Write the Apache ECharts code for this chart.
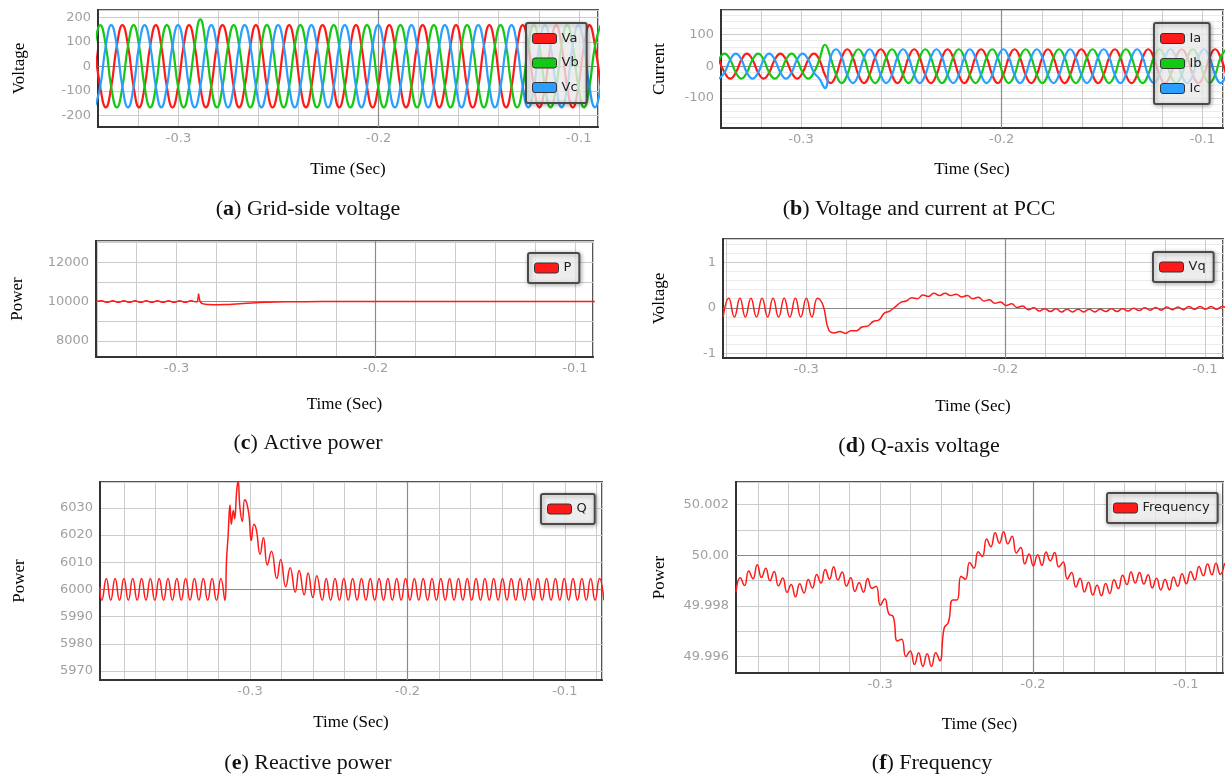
<!DOCTYPE html>
<html>
<head>
<meta charset="utf-8">
<title>Grid-side and PCC waveforms</title>
<script src="https://cdn.jsdelivr.net/npm/echarts@6/dist/echarts.min.js"></script>
<style>
  html, body { margin: 0; padding: 0; background: #fff; }
  #chart { width: 1226px; height: 781px; }
</style>
</head>
<body>
<div id="chart"></div>
<script>
// (a) grid-side voltage, read at every 60 degrees of the 60 Hz wave
const tV = [-0.3419,-0.3391,-0.3363,-0.3336,-0.3308,-0.328,-0.3252,-0.3224,-0.3197,-0.3169,
  -0.3141,-0.3113,-0.3086,-0.3058,-0.303,-0.3002,-0.2974,-0.2947,-0.2919,-0.2891,
  -0.2863,-0.2836,-0.2808,-0.278,-0.2752,-0.2724,-0.2697,-0.2669,-0.2641,-0.2613,
  -0.2586,-0.2558,-0.253,-0.2502,-0.2474,-0.2447,-0.2419,-0.2391,-0.2363,-0.2336,
  -0.2308,-0.228,-0.2252,-0.2224,-0.2197,-0.2169,-0.2141,-0.2113,-0.2086,-0.2058,
  -0.203,-0.2002,-0.1974,-0.1947,-0.1919,-0.1891,-0.1863,-0.1836,-0.1808,-0.178,
  -0.1752,-0.1724,-0.1697,-0.1669,-0.1641,-0.1613,-0.1586,-0.1558,-0.153,-0.1502,
  -0.1474,-0.1447,-0.1419,-0.1391,-0.1363,-0.1336,-0.1308,-0.128,-0.1252,-0.1224,
  -0.1197,-0.1169,-0.1141,-0.1113,-0.1086,-0.1058,-0.103,-0.1002,-0.0974,-0.0947,
  -0.0919,-0.0891];
const Va = [84,-84,-168,-84,84,168, 84,-84,-168,-84,84,168, 84,-84,-168,-84,84,168,
  84,-84,-168,-84,84,168, 84,-84,-168,-84,84,168, 84,-84,-168,-84,84,168,
  84,-84,-168,-84,84,168, 84,-84,-168,-84,84,168, 84,-84,-168,-84,84,168,
  84,-84,-168,-84,84,168, 84,-84,-168,-84,84,168, 84,-84,-168,-84,84,168,
  84,-84,-168,-84,84,168, 84,-84,-168,-84,84,168, 84,-84,-168,-84,84,168, 84,-84];
const Vb = [84,168,84,-84,-168,-84, 84,168,84,-84,-168,-84, 84,168,84,-84,-168,-84,
  84,192,84,-84,-168,-84, 84,168,84,-84,-168,-84, 84,168,84,-84,-168,-84,
  84,168,84,-84,-168,-84, 84,168,84,-84,-168,-84, 84,168,84,-84,-168,-84,
  84,168,84,-84,-168,-84, 84,168,84,-84,-168,-84, 84,168,84,-84,-168,-84,
  84,168,84,-84,-168,-84, 84,168,84,-84,-168,-84, 84,168,84,-84,-168,-84, 84,168];
const Vc = [-168,-84,84,168,84,-84, -168,-84,84,168,84,-84, -168,-84,84,168,84,-84,
  -168,-84,84,168,84,-84, -168,-84,84,168,84,-84, -168,-84,84,168,84,-84,
  -168,-84,84,168,84,-84, -168,-84,84,168,84,-84, -168,-84,84,168,84,-84,
  -168,-84,84,168,84,-84, -168,-84,84,168,84,-84, -168,-84,84,168,84,-84,
  -168,-84,84,168,84,-84, -168,-84,84,168,84,-84, -168,-84,84,168,84,-84, -168,-84];

// (b) current at PCC, same 60 degree reading
const tI = [-0.3409,-0.3381,-0.3353,-0.3325,-0.3297,-0.327,-0.3242,-0.3214,-0.3186,-0.3159,
  -0.3131,-0.3103,-0.3075,-0.3047,-0.302,-0.2992,-0.2964,-0.2936,-0.2909,-0.2881,
  -0.2853,-0.2825,-0.2797,-0.277,-0.2742,-0.2714,-0.2686,-0.2659,-0.2631,-0.2603,
  -0.2575,-0.2547,-0.252,-0.2492,-0.2464,-0.2436,-0.2409,-0.2381,-0.2353,-0.2325,
  -0.2297,-0.227,-0.2242,-0.2214,-0.2186,-0.2159,-0.2131,-0.2103,-0.2075,-0.2047,
  -0.202,-0.1992,-0.1964,-0.1936,-0.1909,-0.1881,-0.1853,-0.1825,-0.1797,-0.177,
  -0.1742,-0.1714,-0.1686,-0.1659,-0.1631,-0.1603,-0.1575,-0.1547,-0.152,-0.1492,
  -0.1464,-0.1436,-0.1409,-0.1381,-0.1353,-0.1325,-0.1297,-0.127,-0.1242,-0.1214,
  -0.1186,-0.1159,-0.1131,-0.1103,-0.1075,-0.1047,-0.102,-0.0992,-0.0964,-0.0936,
  -0.0909,-0.0881];
const Ia = [20,-20,-39,-20,20,39, 20,-20,-39,-20,20,39, 20,-20,-39,-20,20,39, 20,
  -27,-53,-27,27,53,
  27,-27,-53,-27,27,53, 27,-27,-53,-27,27,53, 27,-27,-53,-27,27,53, 27,-27,-53,-27,27,53,
  27,-27,-53,-27,27,53, 27,-27,-53,-27,27,53, 27,-27,-53,-27,27,53, 27,-27,-53,-27,27,53,
  27,-27,-53,-27,27,53, 27,-27,-53,-27,27,53, 27,-27,-53,-27,27,53,
  27,-27];
const Ib = [20,39,20,-20,-39,-20, 20,39,20,-20,-39,-20, 20,39,20,-20,-39,-20, 20,
  67,27,-27,-53,-27,
  27,53,27,-27,-53,-27, 27,53,27,-27,-53,-27, 27,53,27,-27,-53,-27, 27,53,27,-27,-53,-27,
  27,53,27,-27,-53,-27, 27,53,27,-27,-53,-27, 27,53,27,-27,-53,-27, 27,53,27,-27,-53,-27,
  27,53,27,-27,-53,-27, 27,53,27,-27,-53,-27, 27,53,27,-27,-53,-27,
  27,53];
const Ic = [-39,-20,20,39,20,-20, -39,-20,20,39,20,-20, -39,-20,20,39,20,-20, -39,
  -69,27,53,27,-27,
  -53,-27,27,53,27,-27, -53,-27,27,53,27,-27, -53,-27,27,53,27,-27, -53,-27,27,53,27,-27,
  -53,-27,27,53,27,-27, -53,-27,27,53,27,-27, -53,-27,27,53,27,-27, -53,-27,27,53,27,-27,
  -53,-27,27,53,27,-27, -53,-27,27,53,27,-27, -53,-27,27,53,27,-27,
  -53,-27];

// (c) active power
const tP = [-0.3404,-0.3376,-0.3348,-0.332,-0.3292,-0.3264,-0.3236,-0.3208,-0.318,-0.3152,
  -0.3124,-0.3096,-0.3068,-0.304,-0.3012,-0.2984,-0.2956,-0.2928,-0.29,
  -0.2893,-0.2889,-0.2885,-0.2878,-0.2865,-0.284,-0.279,-0.275,-0.27,-0.262,
  -0.255,-0.245,-0.235,-0.22,-0.15,-0.09];
const P = [10000,10040,9960,10040,9960,10040,9960,10040,9960,10040,
  9960,10040,9960,10040,9960,10040,9960,10040,9980,
  10100,10380,10150,9950,9880,9850,9840,9850,9880,9930,
  9960,9985,9995,10000,10000,10000];

// (d) q-axis voltage
const tVq = [-0.3416,-0.3388,-0.336,-0.3332,-0.3305,-0.3277,-0.3249,-0.3221,-0.3193,-0.3166,
  -0.3138,-0.311,-0.3082,-0.3054,-0.3027,-0.2999,-0.2971,-0.2943,
  -0.2915,-0.2887,-0.2859,-0.2831,-0.2803,-0.2775,-0.2748,-0.272,-0.2692,-0.2664,
  -0.2636,-0.2609,-0.2581,-0.2553,-0.2525,-0.2498,-0.247,-0.2442,-0.2414,-0.2386,
  -0.2359,-0.2331,-0.2303,-0.2275,-0.2247,-0.222,-0.2192,-0.2164,-0.2136,-0.2108,
  -0.2081,-0.2053,-0.2025,-0.1997,-0.1969,-0.1942,-0.1914,-0.1886,-0.1858,-0.183,
  -0.1803,-0.1775,-0.1747,-0.1719,-0.1691,-0.1664,-0.1636,-0.1608,-0.158,-0.1552,
  -0.1525,-0.1497,-0.1469,-0.1441,-0.1413,-0.1386,-0.1358,-0.133,-0.1302,-0.1274,
  -0.1247,-0.1219,-0.1191,-0.1163,-0.1135,-0.1108,-0.108,-0.1052,-0.1024,-0.0996,
  -0.0969,-0.0941,-0.0913,-0.0885];
const Vq = [-0.2,0.21,-0.2,0.21,-0.2,0.21,-0.2,0.21,-0.2,0.21,
  -0.2,0.21,-0.2,0.21,-0.2,0.21,-0.2,0.21,
  0.05,-0.48,-0.55,-0.52,-0.56,-0.5,-0.5,-0.42,-0.4,-0.3,
  -0.27,-0.12,-0.07,0.02,0.12,0.15,0.22,0.2,0.28,0.25,
  0.32,0.27,0.32,0.27,0.3,0.24,0.27,0.2,0.23,0.15,
  0.18,0.1,0.13,0.05,0.09,0.01,0.04,-0.04,0,-0.07,
  -0.02,-0.08,-0.02,-0.09,-0.03,-0.09,-0.03,-0.09,-0.03,-0.09,
  -0.03,-0.08,-0.02,-0.08,-0.02,-0.07,-0.01,-0.06,0,-0.05,
  0.01,-0.05,0.02,-0.04,0.02,-0.04,0.03,-0.03,0.03,-0.03,
  0.03,-0.03,0.03,-0.02];

// (e) reactive power
const tQ = [-0.3955,-0.3941,-0.3913,-0.3885,-0.3857,-0.3829,-0.3801,-0.3773,-0.3745,-0.3717,
  -0.3689,-0.3661,-0.3633,-0.3605,-0.3577,-0.3549,-0.3521,-0.3493,-0.3465,-0.3437,
  -0.3409,-0.3381,-0.3353,-0.3325,-0.3297,-0.3269,-0.3241,-0.3213,-0.3185,-0.316,
  -0.3149,-0.314,-0.3127,-0.3119,-0.3106,-0.3098,-0.3085,-0.3076,-0.3064,-0.3049,
  -0.3034,-0.3022,-0.3006,-0.2992,-0.2975,-0.296,-0.2936,-0.2915,-0.289,-0.2864,
  -0.283,-0.2805,-0.2773,-0.2745,-0.2713,-0.2688,-0.2656,-0.2631,-0.2601,-0.2576,
  -0.2541,-0.2516,
  -0.2488,-0.246,-0.2432,-0.2404,-0.2376,-0.2348,-0.232,-0.2292,-0.2264,-0.2236,
  -0.2208,-0.218,-0.2152,-0.2124,-0.2096,-0.2068,-0.204,-0.2012,-0.1984,-0.1956,
  -0.1928,-0.19,-0.1872,-0.1844,-0.1816,-0.1788,-0.176,-0.1732,-0.1704,-0.1676,
  -0.1648,-0.162,-0.1592,-0.1564,-0.1536,-0.1508,-0.148,-0.1452,-0.1424,-0.1396,
  -0.1368,-0.134,-0.1312,-0.1284,-0.1256,-0.1228,-0.12,-0.1172,-0.1144,-0.1116,
  -0.1088,-0.106,-0.1032,-0.1004,-0.0976,-0.0948,-0.092,-0.0892,-0.0864,-0.0836,
  -0.0808,-0.078,-0.0752];
const Q = [6001,5996,6004,5996,6004,5996,6004,5996,6004,5996,
  6004,5996,6004,5996,6004,5996,6004,5996,6004,5996,
  6004,5996,6004,5996,6004,5996,6004,5996,6004,5996,
  6011,6019,6031,6024,6029,6026,6036,6040,6030,6025,
  6033,6032,6027,6018,6024,6022,6013,6019,6009,6014,
  6004,6011,6001,6008,5999,6007,5998,6006,5997,6005,
  5996,6004,
  5996,6004,5996,6004,5996,6004,5996,6004,5996,6004,
  5996,6004,5996,6004,5996,6004,5996,6004,5996,6004,
  5996,6004,5996,6004,5996,6004,5996,6004,5996,6004,
  5996,6004,5996,6004,5996,6004,5996,6004,5996,6004,
  5996,6004,5996,6004,5996,6004,5996,6004,5996,6004,
  5996,6004,5996,6004,5996,6004,5996,6004,5996,6004,
  5996,6004,5996];

// (f) frequency
const tF = [-0.3943,-0.3915,-0.3887,-0.386,-0.3832,-0.3804,-0.3776,-0.3748,-0.3721,-0.3693,
  -0.3665,-0.3637,-0.3609,-0.3582,-0.3554,-0.3526,-0.3498,-0.347,-0.3443,-0.3415,
  -0.3387,-0.3359,-0.3331,-0.3304,-0.3276,-0.3248,-0.322,-0.3192,-0.3165,-0.3137,
  -0.3109,-0.3081,-0.3053,-0.3026,-0.2998,-0.297,-0.2942,-0.2914,-0.2887,-0.2859,
  -0.2831,-0.2803,-0.2775,-0.2748,-0.272,-0.2692,-0.2664,-0.2636,-0.2609,-0.2581,
  -0.2553,-0.2525,-0.2497,-0.247,-0.2442,-0.2414,-0.2386,-0.2358,-0.2331,-0.2303,
  -0.2275,-0.2247,-0.2219,-0.2192,-0.2164,-0.2136,-0.2108,-0.208,-0.2053,-0.2025,
  -0.1997,-0.1969,-0.1941,-0.1914,-0.1886,-0.1858,-0.183,-0.1802,-0.1775,-0.1747,
  -0.1719,-0.1691,-0.1663,-0.1636,-0.1608,-0.158,-0.1552,-0.1524,-0.1497,-0.1469,
  -0.1441,-0.1413,-0.1385,-0.1358,-0.133,-0.1302,-0.1274,-0.1246,-0.1219,-0.1191,
  -0.1163,-0.1135,-0.1107,-0.108,-0.1052,-0.1024,-0.0996,-0.0968,-0.0941,-0.0913,
  -0.0885,-0.0857,-0.0829,-0.0802,-0.0774,-0.0746];
const F = [49.99853,49.99911,49.9988,49.99938,49.99907,49.99962,49.99912,49.99949,49.99899,49.99936,
  49.99879,49.9991,49.99853,49.99884,49.99836,49.99887,49.99851,49.99904,49.9987,49.99924,
  49.9989,49.99944,49.99905,49.99955,49.99902,49.99934,49.99878,49.99911,49.99857,49.99891,
  49.99854,49.99908,49.99869,49.99877,49.99802,49.99828,49.99767,49.99757,49.99661,49.99668,
  49.99599,49.99621,49.99568,49.99614,49.9956,49.9961,49.9956,49.99614,49.99582,49.99711,
  49.99735,49.99823,49.99823,49.99917,49.99905,49.99971,49.99949,50.00014,49.99995,50.00064,
  50.00034,50.00089,50.00048,50.00093,50.00045,50.00075,50.00009,50.00031,49.99966,50.00005,
  49.99958,50.00002,49.9996,50.00013,49.99978,50.00011,49.99954,49.99973,49.99906,49.99932,
  49.99874,49.99909,49.99855,49.99893,49.99843,49.99881,49.9984,49.99888,49.99849,49.99903,
  49.99868,49.99921,49.99884,49.99934,49.9989,49.99932,49.99886,49.99923,49.99871,49.99909,
  49.99863,49.99904,49.99863,49.99914,49.99877,49.99927,49.99887,49.99936,49.99902,49.99956,
  49.99919,49.99965,49.99923,49.99968,49.99925,49.99969];

// darker reference lines drawn in every panel
const refT = -0.2;
const refY = [0, 0, 10000, 0, 6000, 50];

const captions = [
  ['a', 'Grid-side voltage'], ['b', 'Voltage and current at PCC'],
  ['c', 'Active power'], ['d', 'Q-axis voltage'],
  ['e', 'Reactive power'], ['f', 'Frequency']
];

const RED = '#ff1a1a', GREEN = '#14c814', BLUE = '#2a9fff';
const LABEL = '#a0a0a0';
const SERIF = 'Liberation Serif';

function xFmt(v) {
  const r = Math.round(v * 10);
  return Math.abs(v * 10 - r) < 1e-6 ? (r / 10).toFixed(1) : '';
}
function stepFmt(step) {
  return function (v) {
    const r = Math.round(v / step);
    return Math.abs(v / step - r) < 1e-6 ? String(Math.round(r * step)) : '';
  };
}
function freqFmt(v) {
  const r = Math.round(v / 0.002);
  if (Math.abs(v / 0.002 - r) > 1e-4) return '';
  const x = r * 0.002;
  return Math.abs(x - 50) < 1e-9 ? '50.00' : x.toFixed(3);
}

function xAx(grid, min, max, nameGap) {
  return {
    type: 'value', gridIndex: grid, min: min, max: max, minInterval: 0.02, maxInterval: 0.02,
    name: 'Time (Sec)', nameLocation: 'middle', nameGap: nameGap,
    nameTextStyle: { fontFamily: SERIF, fontSize: 17, color: '#000' },
    axisLine: { show: true, onZero: false, lineStyle: { color: '#333', width: 2 } },
    axisTick: { show: false },
    axisLabel: { formatter: xFmt, color: LABEL, fontFamily: 'DejaVu Sans', fontSize: 13, margin: 5 },
    splitLine: { show: true, lineStyle: { color: '#cccccc', width: 1 } }
  };
}
function yAx(grid, min, max, step, fmt, name, nameGap, minorSplit) {
  return {
    type: 'value', gridIndex: grid, min: min, max: max, minInterval: step, maxInterval: step,
    name: name, nameLocation: 'middle', nameGap: nameGap,
    nameTextStyle: { fontFamily: SERIF, fontSize: 17, color: '#000' },
    axisLine: { show: true, onZero: false, lineStyle: { color: '#333', width: 2 } },
    axisTick: { show: false },
    axisLabel: { formatter: fmt, color: LABEL, fontFamily: 'DejaVu Sans', fontSize: 13, margin: 7 },
    splitLine: { show: true, lineStyle: { color: '#cccccc', width: 1 } },
    minorTick: { show: false, splitNumber: minorSplit || 5 },
    minorSplitLine: { show: !!minorSplit, lineStyle: { color: '#ececec', width: 1 } }
  };
}
function wave(name, grid, t, v, color, width) {
  return {
    name: name, type: 'line', xAxisIndex: grid, yAxisIndex: grid,
    data: t.map(function (x, i) { return [x, v[i]]; }),
    showSymbol: false, symbol: 'none', smooth: 0.5, clip: true, z: 3,
    lineStyle: { color: color, width: width }, itemStyle: { color: color }
  };
}
function refLines(grid) {
  return {
    type: 'line', xAxisIndex: grid, yAxisIndex: grid, data: [], silent: true, z: 1,
    markLine: {
      silent: true, symbol: ['none', 'none'], z: 1, label: { show: false },
      lineStyle: { color: '#8a8a8a', width: 1.2, type: 'solid' },
      data: [{ yAxis: refY[grid] }, { xAxis: refT }]
    }
  };
}
function legendBox(names, left, top, pad, gap) {
  return {
    data: names, orient: 'vertical', left: left, top: top, icon: 'roundRect',
    itemWidth: 24, itemHeight: 10, itemGap: gap || 10, padding: pad, selectedMode: false,
    backgroundColor: 'rgba(255,255,255,0.72)', borderColor: '#4a4a4a', borderWidth: 2, borderRadius: 2,
    shadowBlur: 4, shadowColor: 'rgba(0,0,0,0.35)', shadowOffsetX: 1, shadowOffsetY: 1,
    itemStyle: { borderColor: '#333', borderWidth: 1 },
    textStyle: { fontFamily: 'DejaVu Sans', fontSize: 13, color: '#222' }
  };
}
function caption(i, x, y) {
  return {
    text: '({b|' + captions[i][0] + '}) ' + captions[i][1],
    left: x, top: y, textAlign: 'center', padding: 0,
    textStyle: {
      fontFamily: SERIF, fontSize: 22, fontWeight: 'normal', color: '#111',
      rich: { b: { fontFamily: SERIF, fontSize: 22, fontWeight: 'bold', color: '#111' } }
    }
  };
}

const chart = echarts.init(document.getElementById('chart'));
const gridBox = { show: true, borderColor: '#555', borderWidth: 2, backgroundColor: '#fff' };

chart.setOption({
  animation: false,
  textStyle: { fontFamily: 'DejaVu Sans' },
  title: [
    caption(0, 308, 198), caption(1, 919, 198),
    caption(2, 308, 432), caption(3, 919, 435),
    caption(4, 308, 752), caption(5, 932, 752)
  ],
  grid: [
    Object.assign({ left: 98, top: 10, width: 500, height: 117 }, gridBox),
    Object.assign({ left: 721, top: 10, width: 504, height: 118 }, gridBox),
    Object.assign({ left: 96, top: 241, width: 497, height: 116 }, gridBox),
    Object.assign({ left: 723, top: 239, width: 502, height: 119 }, gridBox),
    Object.assign({ left: 100, top: 482, width: 502, height: 198 }, gridBox),
    Object.assign({ left: 736, top: 482, width: 489, height: 191 }, gridBox)
  ],
  xAxis: [
    xAx(0, -0.3402, -0.0904, 34),
    xAx(1, -0.3399, -0.0897, 33),
    xAx(2, -0.3404, -0.0909, 39),
    xAx(3, -0.3417, -0.0909, 40),
    xAx(4, -0.3953, -0.0764, 34),
    xAx(5, -0.3943, -0.0756, 43)
  ],
  yAxis: [
    yAx(0, -248, 230, 100, stepFmt(100), 'Voltage', 70),
    yAx(1, -194, 176, 100, stepFmt(100), 'Current', 53, 5),
    yAx(2, 7173, 13086, 1000, stepFmt(2000), 'Power', 70),
    yAx(3, -1.1, 1.51, 1, stepFmt(1), 'Voltage', 55, 5),
    yAx(4, 5966.7, 6039.5, 10, stepFmt(10), 'Power', 72),
    yAx(5, 49.99534, 50.0029, 0.001, freqFmt, 'Power', 68)
  ],
  legend: [
    legendBox(['Va', 'Vb', 'Vc'], 526, 23, [9, 8, 9, 6], 11.5),
    legendBox(['Ia', 'Ib', 'Ic'], 1154, 23, [9, 8, 9, 6], 12),
    legendBox(['P'], 528, 253, [8.5, 8, 8.5, 6]),
    legendBox(['Vq'], 1153, 252, [8.5, 8, 8.5, 6]),
    legendBox(['Q'], 541, 494, [8.5, 8, 8.5, 6]),
    legendBox(['Frequency'], 1107, 493, [8.5, 8, 8.5, 6])
  ],
  series: [
    refLines(0), refLines(1), refLines(2), refLines(3), refLines(4), refLines(5),
    wave('Va', 0, tV, Va, RED, 2.2),
    wave('Vb', 0, tV, Vb, GREEN, 2.2),
    wave('Vc', 0, tV, Vc, BLUE, 2.2),
    wave('Ia', 1, tI, Ia, RED, 2.2),
    wave('Ib', 1, tI, Ib, GREEN, 2.2),
    wave('Ic', 1, tI, Ic, BLUE, 2.2),
    wave('P', 2, tP, P, RED, 1.5),
    wave('Vq', 3, tVq, Vq, RED, 1.5),
    wave('Q', 4, tQ, Q, RED, 1.5),
    wave('Frequency', 5, tF, F, RED, 1.5)
  ]
});
</script>
</body>
</html>
